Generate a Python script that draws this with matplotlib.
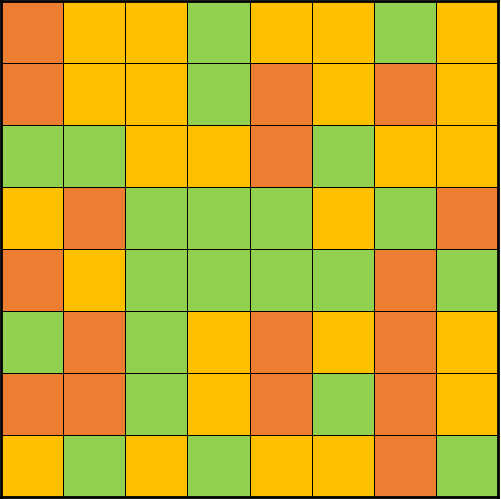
import matplotlib
matplotlib.use("Agg")
import matplotlib.pyplot as plt
import numpy as np
from matplotlib.colors import ListedColormap

# colour codes: 0 = orange, 1 = yellow, 2 = green
PALETTE = ["#ED7D31", "#FFC000", "#92D050"]

ROW_0 = [0, 1, 1, 2, 1, 1, 2, 1]
ROW_1 = [0, 1, 1, 2, 0, 1, 0, 1]
ROW_2 = [2, 2, 1, 1, 0, 2, 1, 1]
ROW_3 = [1, 0, 2, 2, 2, 1, 2, 0]
ROW_4 = [0, 1, 2, 2, 2, 2, 0, 2]
ROW_5 = [2, 0, 2, 1, 0, 1, 0, 1]
ROW_6 = [0, 0, 2, 1, 0, 2, 0, 1]
ROW_7 = [1, 2, 1, 2, 1, 1, 0, 2]

grid = np.array([ROW_0, ROW_1, ROW_2, ROW_3, ROW_4, ROW_5, ROW_6, ROW_7])

fig = plt.figure(figsize=(5.01, 4.99), dpi=100, facecolor='w')
ax = fig.add_axes([1 / 501, 2 / 499, 497 / 501, 496 / 499])
ax.pcolormesh(grid, cmap=ListedColormap(PALETTE), vmin=-0.5, vmax=2.5,
              edgecolors='black', linewidth=0.7, antialiased=False)
ax.set_xlim(0, grid.shape[1])
ax.set_ylim(grid.shape[0], 0)
ax.set_xticks([])
ax.set_yticks([])
for spine in ax.spines.values():
	spine.set_linewidth(2)
	spine.set_color('black')

plt.savefig("out.png", dpi=100)
